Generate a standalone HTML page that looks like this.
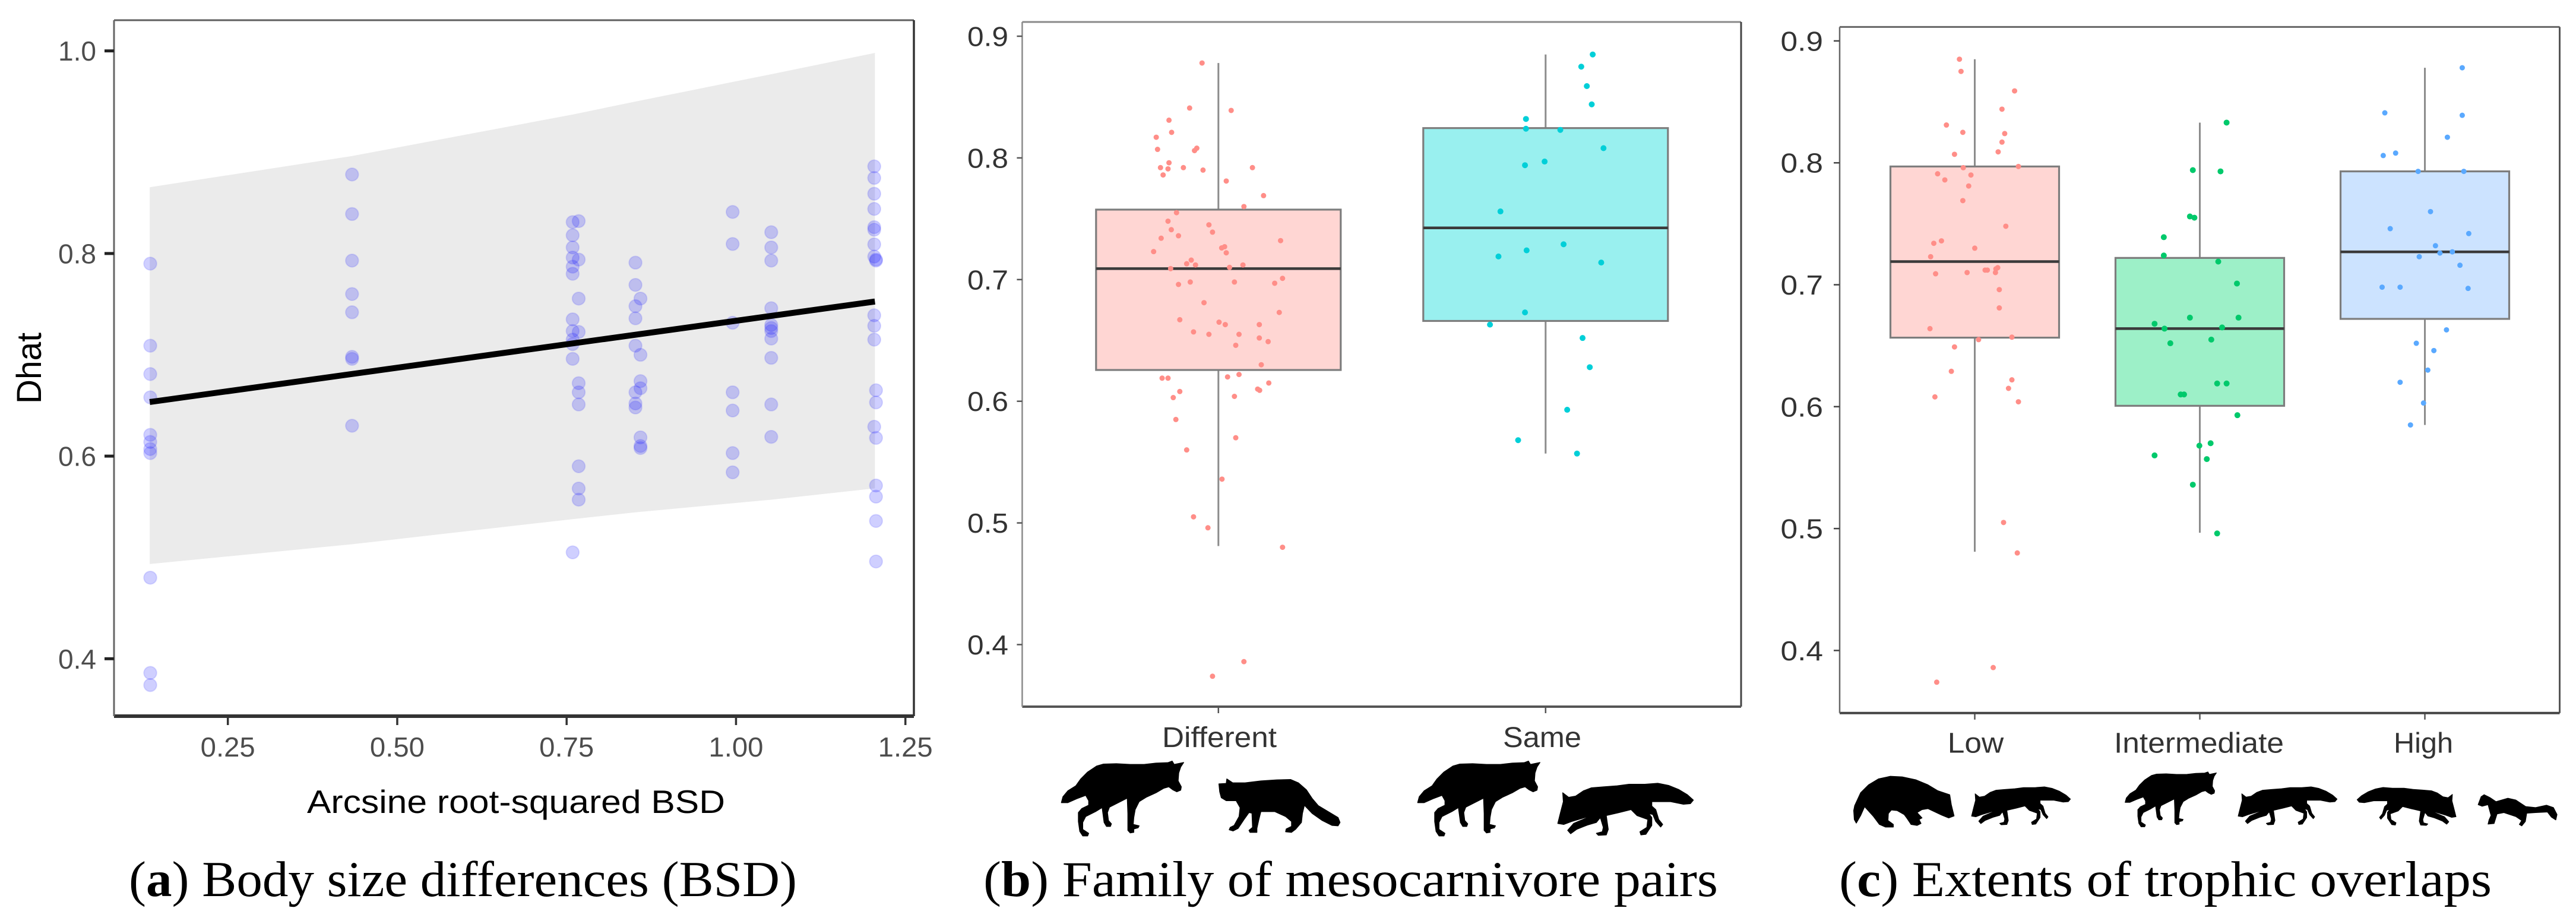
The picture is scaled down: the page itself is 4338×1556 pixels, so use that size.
<!DOCTYPE html>
<html lang="en">
<head>
<meta charset="utf-8">
<title>Dhat by body size differences, family and trophic overlap</title>
<style>
html,body{margin:0;padding:0;background:#fff;}
svg{display:block;}
text{font-family:"Liberation Sans",Arial,sans-serif;}
.cap{font-family:"Liberation Serif","Times New Roman",serif;font-size:85px;fill:#000;}
</style>
</head>
<body>
<svg id="figure" xmlns="http://www.w3.org/2000/svg" width="4338" height="1556" viewBox="0 0 4338 1556">
  <defs>
    <polygon id="wolf-shape" points="52,245 60,215 85,185 125,160 150,125 185,90 230,60 265,50 330,48 400,52 470,52 530,45 590,43 612,35 622,52 670,42 655,65 645,95 642,135 658,165 655,182 635,190 615,180 595,165 570,172 530,195 480,218 445,240 425,280 418,320 415,355 445,362 440,372 418,378 418,395 400,398 388,385 388,300 385,222 340,245 295,268 285,295 290,335 305,352 300,365 280,365 268,345 258,270 225,290 175,315 160,345 160,380 190,400 185,413 160,413 145,390 138,340 138,295 155,275 190,258 190,235 175,208 130,225 85,245"/>
    <polygon id="fox-shape" points="1415,232 1385,205 1340,178 1290,158 1235,147 1170,152 1090,152 1030,160 960,165 900,170 860,185 820,212 785,218 755,195 758,240 745,290 730,350 760,355 800,340 875,318 885,318 810,350 780,385 795,402 825,380 880,358 925,345 945,320 960,370 955,392 925,400 935,410 975,408 985,380 975,310 1040,295 1100,280 1130,310 1185,330 1180,370 1145,392 1150,408 1175,405 1205,360 1205,320 1190,300 1210,305 1225,340 1250,368 1260,355 1240,330 1225,280 1205,262 1205,240 1300,240 1365,253 1400,250"/>
  </defs>
  <g id="panel-a"></g>
  <g id="panel-b"></g>
  <g id="panel-c"></g>

  <g fill="#000" stroke="#000" stroke-width="4" stroke-linejoin="round">
    <use href="#wolf-shape" transform="translate(1770,1270) scale(.3333)"/>
    <polygon transform="translate(1770,1270) scale(.3333)" points="848,150 885,148 888,125 918,145 980,145 1060,135 1140,130 1210,128 1250,145 1290,180 1320,225 1350,260 1400,290 1450,320 1460,345 1450,362 1420,360 1370,335 1320,300 1280,258 1270,300 1265,345 1235,380 1215,395 1185,392 1188,378 1215,365 1215,340 1185,315 1130,290 1060,290 1050,330 1040,375 1040,395 1005,395 1000,385 1018,370 1015,298 1000,295 975,330 945,375 920,388 900,382 905,370 925,360 950,315 955,270 935,235 885,235 860,220 852,190"/>
    <use href="#wolf-shape" transform="translate(2370,1270) scale(.3333)"/>
    <use href="#fox-shape" transform="translate(2380,1270) scale(.3333)"/>
  </g>
  <g fill="#000" stroke="#000" stroke-width="4" stroke-linejoin="round">
    <polygon transform="translate(3100,1290) scale(.3333)" points="65,225 70,200 100,135 140,95 190,65 250,52 310,55 380,70 440,95 490,125 550,145 558,195 572,252 545,262 510,248 440,215 410,220 385,235 410,262 395,270 405,290 385,300 355,295 335,265 320,245 285,225 255,222 240,240 238,275 265,295 265,308 225,308 195,295 165,255 120,205 100,250 78,288 68,270"/>
    <use href="#fox-shape" transform="translate(3142.4,1289.2) scale(.2433)"/>
    <use href="#wolf-shape" transform="translate(3565.7,1291.2) scale(.249,.245)"/>
    <use href="#fox-shape" transform="translate(3591.4,1289.2) scale(.2433)"/>
    <use href="#fox-shape" transform="translate(4313.6,1290.2) scale(-.2433,.2433)"/>
    <polygon transform="translate(3960,1290) scale(.3333)" points="640,195 655,155 670,145 700,160 730,180 790,163 830,172 880,205 930,210 985,198 1020,210 1038,245 1032,272 1010,258 990,232 930,235 885,238 878,280 860,302 848,295 860,275 830,255 770,235 735,242 720,290 690,293 695,272 705,250 690,195 660,203"/>
  </g>

  <text class="cap" x="217" y="1509" textLength="1125" lengthAdjust="spacingAndGlyphs">(<tspan font-weight="bold">a</tspan>) Body size differences (BSD)</text>
  <text class="cap" x="1656" y="1509" textLength="1237" lengthAdjust="spacingAndGlyphs">(<tspan font-weight="bold">b</tspan>) Family of mesocarnivore pairs</text>
  <text class="cap" x="3097" y="1509" textLength="1099" lengthAdjust="spacingAndGlyphs">(<tspan font-weight="bold">c</tspan>) Extents of trophic overlaps</text>
</svg>
<script>
// Panel (a) data
const bsdXTicks = [0.25, 0.5, 0.75, 1.0, 1.25];
const bsdXTickLabels = ["0.25", "0.50", "0.75", "1.00", "1.25"];
const bsdYTicks = [0.4, 0.6, 0.8, 1.0];
const bsdYTickLabels = ["0.4", "0.6", "0.8", "1.0"];
const ribbonBsd = [0.1347, 0.4333, 0.7589, 0.8516, 1.052, 1.205];
const ribbonUpper = [0.8654, 0.8962, 0.9372, 0.950, 0.977, 0.998];
const ribbonLower = [0.4935, 0.513, 0.5378, 0.5445, 0.557, 0.5682];
const fitBsd = [0.1347, 1.205];
const fitDhat = [0.6534, 0.7526];
const columnBsd = [0.1355, 0.4333, 0.7589, 0.7678, 0.8516, 0.859, 0.995, 1.052, 1.204, 1.2066];
const columnDhat = [
  [0.790, 0.709, 0.681, 0.658, 0.621, 0.614, 0.607, 0.603, 0.480, 0.386, 0.374],
  [0.878, 0.839, 0.793, 0.760, 0.742, 0.698, 0.696, 0.630],
  [0.831, 0.818, 0.806, 0.796, 0.787, 0.780, 0.735, 0.7235, 0.715, 0.7106, 0.696, 0.505],
  [0.832, 0.794, 0.7555, 0.7226, 0.672, 0.663, 0.651, 0.590, 0.568, 0.557],
  [0.791, 0.769, 0.748, 0.736, 0.709, 0.663, 0.652, 0.648],
  [0.7555, 0.700, 0.674, 0.667, 0.6185, 0.610, 0.608],
  [0.841, 0.8094, 0.7316, 0.663, 0.645, 0.603, 0.584],
  [0.821, 0.806, 0.793, 0.746, 0.7295, 0.7265, 0.7235, 0.716, 0.697, 0.651, 0.619],
  [0.886, 0.8746, 0.859, 0.844, 0.826, 0.8235, 0.809, 0.797, 0.739, 0.7286, 0.715, 0.629],
  [0.794, 0.793, 0.665, 0.653, 0.618, 0.571, 0.560, 0.536, 0.496]
];

// Panel (b) data
const dhatTicks = [0.4, 0.5, 0.6, 0.7, 0.8, 0.9];
const dhatTickLabels = ["0.4", "0.5", "0.6", "0.7", "0.8", "0.9"];
const familyCategories = ["Different", "Same"];
const familyQ1 = [0.6257, 0.666];
const familyMedian = [0.709, 0.7425];
const familyQ3 = [0.7575, 0.8245];
const familyLow = [0.481, 0.557];
const familyHigh = [0.878, 0.885];
const differentJitter = [-.050,-.088,.039,-.151,-.143,-.190,-.186,-.066,-.073,-.151,-.177,-.154,-.107,-.047,.104,-.169,.024,.138,.078,-.128,-.154,-.029,-.144,-.018,-.122,-.175,.190,.010,.019,.024,-.198,-.083,-.097,-.070,.075,-.146,.034,.196,.172,.049,-.086,-.122,-.044,.186,-.118,.002,.021,.125,-.076,-.029,.063,.125,.152,.053,.131,-.172,-.154,.028,.063,.154,.120,.126,-.118,-.138,.049,-.130,.053,-.097,.011,-.076,-.032,.196,.078,-.018];
const differentDhat = [.878,.841,.839,.831,.821,.817,.807,.808,.806,.796,.792,.791,.792,.790,.792,.786,.781,.769,.760,.755,.748,.745,.741,.739,.736,.734,.732,.726,.727,.722,.723,.716,.713,.712,.712,.709,.710,.701,.697,.698,.698,.696,.681,.673,.667,.665,.663,.663,.657,.655,.655,.652,.649,.646,.630,.619,.619,.620,.622,.615,.610,.609,.608,.603,.604,.585,.570,.560,.536,.505,.496,.480,.386,.374];
const sameJitter = [.144,.109,.126,.141,-.060,-.060,.045,.177,-.003,-.063,-.138,.055,-.058,-.144,.170,-.063,-.170,.113,.135,.066,-.084,.096];
const sameDhat = [.885,.875,.859,.844,.832,.824,.823,.808,.797,.794,.756,.729,.724,.719,.714,.673,.663,.652,.628,.593,.568,.557];

// Panel (c) data
const overlapCategories = ["Low", "Intermediate", "High"];
const overlapQ1 = [0.6566, 0.6007, 0.672];
const overlapMedian = [0.719, 0.664, 0.727];
const overlapQ3 = [0.797, 0.722, 0.793];
const overlapLow = [0.481, 0.4966, 0.585];
const overlapHigh = [0.885, 0.833, 0.878];
const lowJitter = [-.068,-.061,.177,.121,-.126,-.053,.133,.121,.104,-.090,-.051,.194,-.165,-.017,-.133,-.027,-.053,.138,-.148,-.182,.000,-.196,.102,.094,.046,.056,.092,-.174,-.034,.109,.109,-.199,.165,.017,-.090,-.104,.165,.150,-.177,.194,.128,.189,.082,-.169];
const lowDhat = [.885,.875,.859,.844,.831,.825,.824,.817,.809,.807,.796,.797,.791,.790,.786,.781,.769,.748,.736,.734,.730,.723,.714,.713,.712,.712,.710,.709,.710,.696,.681,.664,.657,.655,.649,.629,.622,.615,.608,.604,.505,.480,.386,.374];
const intermediateJitter = [.119,-.031,.092,-.044,-.024,-.160,-.160,.082,.165,-.044,.172,-.201,.099,-.157,.051,-.131,.077,.119,-.070,-.085,.167,.048,-.002,-.201,.031,-.031,.077];
const intermediateDhat = [.833,.794,.793,.756,.755,.739,.724,.719,.701,.673,.673,.668,.665,.664,.655,.652,.619,.619,.610,.610,.593,.570,.568,.560,.557,.536,.496];
const highJitter = [.166,-.178,.166,.100,-.130,-.185,-.030,.173,.025,-.154,.195,.047,.067,.122,-.025,.156,-.190,-.110,.192,.096,-.038,.040,.013,-.110,-.006,-.064];
const highDhat = [.878,.841,.839,.821,.808,.806,.793,.793,.760,.746,.742,.732,.726,.727,.723,.716,.698,.698,.697,.663,.652,.646,.630,.620,.603,.585];

const NS = "http://www.w3.org/2000/svg";
function mk(parent, tag, attrs, txt) {
  const el = document.createElementNS(NS, tag);
  for (const k in attrs) el.setAttribute(k, attrs[k]);
  if (txt !== undefined) el.textContent = txt;
  parent.appendChild(el);
  return el;
}
function frame(parent, box, colors, widths) {
  let el;
  el = mk(parent, "line", {x1: box.l, y1: box.t, x2: box.r, y2: box.t, stroke: colors[0], "stroke-width": widths[0]});
  
  
  el = mk(parent, "line", {x1: box.r, y1: box.t, x2: box.r, y2: box.b, stroke: colors[1], "stroke-width": widths[1]});
  
  
  el = mk(parent, "line", {x1: box.l, y1: box.b, x2: box.r, y2: box.b, stroke: colors[2], "stroke-width": widths[2]});
  
  
  el = mk(parent, "line", {x1: box.l, y1: box.t, x2: box.l, y2: box.b, stroke: colors[3], "stroke-width": widths[3]});
  
  
}
function yAxisTicks(parent, box, yFn, ticks, labels, o) {
  ticks.forEach((t, i) => {
    const tick = mk(parent, "line", {x1: box.l - o.tick, x2: box.l, y1: yFn(t), y2: yFn(t), stroke: o.tickColor, "stroke-width": o.tickW});
    
    
    const lab = mk(parent, "text", {x: o.labelRight, y: yFn(t) + 16.5, "text-anchor": "end", "font-size": 46, fill: o.labelColor, textLength: o.labelLen, lengthAdjust: "spacingAndGlyphs"}, labels[i]);
    
    
  });
}
function boxPlots(parent, spec) {
  const {cats, xFn, yFn, q1, med, q3, low, high, fills, box, labelY, labelLens, labelCx, catNames, halfW} = spec;
  cats.forEach((c, i) => {
    const cx = xFn(i);
    const g = mk(parent, "g", {});
    
    
    const up = mk(g, "line", {x1: cx, x2: cx, y1: yFn(high[i]), y2: yFn(q3[i]), stroke: "#8c8c8c", "stroke-width": 3});
    
    
    const dn = mk(g, "line", {x1: cx, x2: cx, y1: yFn(q1[i]), y2: yFn(low[i]), stroke: "#8c8c8c", "stroke-width": 3});
    
    
    const r = mk(g, "rect", {x: cx - halfW, y: yFn(q3[i]), width: halfW * 2, height: yFn(q1[i]) - yFn(q3[i]), fill: fills[i], stroke: "#7d7d7d", "stroke-width": 3.2});
    
    
    const m = mk(g, "line", {x1: cx - halfW, x2: cx + halfW, y1: yFn(med[i]), y2: yFn(med[i]), stroke: "#3a3a3a", "stroke-width": 4.5});
    
    
    const tk = mk(parent, "line", {x1: cx, x2: cx, y1: box.b, y2: box.b + 11, stroke: "#555", "stroke-width": 2.5});
    
    
    const lab = mk(parent, "text", {x: labelCx[i], y: labelY, "text-anchor": "middle", "font-size": 48, fill: "#333", textLength: labelLens[i], lengthAdjust: "spacingAndGlyphs"}, c);
    
    
  });
}
function jitterPoints(parent, center, jitter, values, xUnit, yFn, color, r, rx) {
  values.forEach((v, i) => {
    const p = mk(parent, "ellipse", {cx: center + jitter[i] * xUnit, cy: yFn(v), rx: rx, ry: r, fill: color});
    
    
  });
}

// ---- Panel A ----
(function () {
  const g = document.getElementById("panel-a");
  const box = {l: 192, t: 34, r: 1539, b: 1206};
  const x = v => 383.7 + (v - 0.25) * 1141;
  const y = v => 85.7 + (1 - v) * 1706;
  const upper = ribbonBsd.map((b, i) => x(b) + "," + y(ribbonUpper[i]));
  const lower = ribbonBsd.map((b, i) => x(b) + "," + y(ribbonLower[i])).reverse();
  const rib = mk(g, "polygon", {points: upper.concat(lower).join(" "), fill: "#ebebeb"});
  
  
  columnBsd.forEach((b, c) => {
    columnDhat[c].forEach(v => {
      const p = mk(g, "circle", {cx: x(b), cy: y(v), r: 10.8, fill: "rgba(0,0,255,.19)", stroke: "rgba(60,60,255,.16)", "stroke-width": 2});
      
      
    });
  });
  const fit = mk(g, "line", {x1: x(fitBsd[0]), y1: y(fitDhat[0]), x2: x(fitBsd[1]), y2: y(fitDhat[1]), stroke: "#000", "stroke-width": 10});
  
  
  frame(g, box, ["#5f5f5f", "#333", "#333", "#666"], [3, 3.5, 6, 3]);
  yAxisTicks(g, box, y, bsdYTicks, bsdYTickLabels, {tick: 16, tickColor: "#222", tickW: 5, labelRight: 162, labelColor: "#4d4d4d", labelLen: 64});
  bsdXTicks.forEach((t, i) => {
    const tk = mk(g, "line", {x1: x(t), x2: x(t), y1: box.b, y2: box.b + 15, stroke: "#333", "stroke-width": 3.5});
    
    
    const lab = mk(g, "text", {x: x(t), y: 1274, "text-anchor": "middle", "font-size": 46, fill: "#4d4d4d", textLength: 92, lengthAdjust: "spacingAndGlyphs"}, bsdXTickLabels[i]);
    
    
  });
  const xt = mk(g, "text", {x: 869, y: 1369, "text-anchor": "middle", "font-size": 55, fill: "#000", textLength: 704, lengthAdjust: "spacingAndGlyphs"}, "Arcsine root-squared BSD");
  
  
  const yt = mk(g, "text", {x: 0, y: 0, transform: "translate(69,620) rotate(-90)", "text-anchor": "middle", "font-size": 58, fill: "#000", textLength: 120, lengthAdjust: "spacingAndGlyphs"}, "Dhat");
  
  
})();

// ---- Panel B ----
(function () {
  const g = document.getElementById("panel-b");
  const box = {l: 1721.4, t: 37, r: 2932, b: 1190};
  const x = i => 2051.8 + i * 551;
  const y = v => 61 + (0.9 - v) * 2049;
  boxPlots(g, {cats: familyCategories, catNames: ["different", "same"], xFn: x, yFn: y, q1: familyQ1, med: familyMedian, q3: familyQ3, low: familyLow, high: familyHigh, fills: ["#ffd6d3", "#99f0ef"], box: box, labelY: 1258, labelLens: [193, 132], labelCx: [2053.5, 2597], halfW: 206});
  jitterPoints(g, x(0), differentJitter, differentDhat, 551, y, "#ff8e88", 4.5, 4.5);
  jitterPoints(g, x(1), sameJitter, sameDhat, 551, y, "#00cfd8", 5, 5);
  frame(g, box, ["#8a8a8a", "#444", "#555", "#8a8a8a"], [3, 3, 4, 2.5]);
  yAxisTicks(g, box, y, dhatTicks, dhatTickLabels, {tick: 9, tickColor: "#555", tickW: 2.5, labelRight: 1698, labelColor: "#333", labelLen: 69});
})();

// ---- Panel C ----
(function () {
  const g = document.getElementById("panel-c");
  const box = {l: 3098, t: 45.4, r: 4310.5, b: 1200.8};
  const x = i => 3325.5 + i * 379;
  const y = v => 68.9 + (0.9 - v) * 2053;
  boxPlots(g, {cats: overlapCategories, catNames: ["low", "intermediate", "high"], xFn: x, yFn: y, q1: overlapQ1, med: overlapMedian, q3: overlapQ3, low: overlapLow, high: overlapHigh, fills: ["#ffd6d3", "#9df0c8", "#cce3ff"], box: box, labelY: 1267.6, labelLens: [94.5, 286, 100], labelCx: [3327, 3703, 4081], halfW: 142});
  jitterPoints(g, x(0), lowJitter, lowDhat, 379, y, "#ff8e88", 4.5, 4.5);
  jitterPoints(g, x(1), intermediateJitter, intermediateDhat, 379, y, "#00c96b", 5, 5);
  jitterPoints(g, x(2), highJitter, highDhat, 379, y, "#5aa9ff", 4.5, 4.5);
  frame(g, box, ["#666", "#555", "#444", "#666"], [3, 3, 4, 2.5]);
  yAxisTicks(g, box, y, dhatTicks, dhatTickLabels, {tick: 10, tickColor: "#444", tickW: 2.5, labelRight: 3070, labelColor: "#333", labelLen: 71.5});
})();
</script>
</body>
</html>
